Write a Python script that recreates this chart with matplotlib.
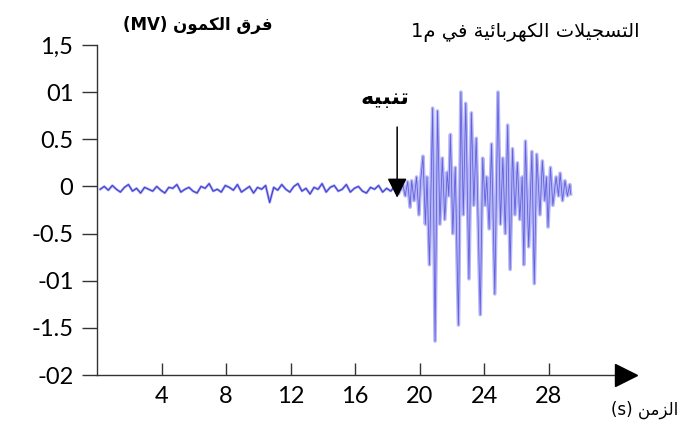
import re
import matplotlib
matplotlib.use("Agg")
import matplotlib.pyplot as plt

# ---------------- data ----------------
x_ticks = [4, 8, 12, 16, 20, 24, 28]
x_tick_labels = ["4", "8", "12", "16", "20", "24", "28"]
y_ticks = [1.5, 1.0, 0.5, 0.0, -0.5, -1.0, -1.5, -2.0]
y_tick_labels = ["1,5", "01", "0.5", "0", "-0.5", "-01", "-1.5", "-02"]

# resting trace before the stimulus (time in s, potential in mV)
rest_t = [0.2, 0.45, 0.7, 0.95, 1.2, 1.45, 1.7, 1.95, 2.2, 2.45,
          2.7, 2.95, 3.2, 3.45, 3.7, 3.95, 4.2, 4.45, 4.7, 4.95,
          5.2, 5.45, 5.7, 5.95, 6.2, 6.45, 6.7, 6.95, 7.2, 7.45,
          7.7, 7.95, 8.2, 8.45, 8.7, 8.95, 9.2, 9.45, 9.7, 9.95,
          10.2, 10.45, 10.7, 10.95, 11.2, 11.45, 11.7, 11.95, 12.2, 12.45,
          12.7, 12.95, 13.2, 13.45, 13.7, 13.95, 14.2, 14.45, 14.7, 14.95,
          15.2, 15.45, 15.7, 15.95, 16.2, 16.45, 16.7, 16.95, 17.2, 17.45,
          17.7, 17.95, 18.2, 18.45, 18.7]
rest_v = [-0.03, 0.00, -0.04, 0.01, -0.03, -0.06, -0.01, 0.02, -0.05, -0.02,
          -0.07, -0.01, -0.03, -0.05, 0.00, -0.04, -0.07, -0.01, -0.02, 0.02,
          -0.06, -0.03, -0.01, -0.05, -0.07, 0.00, -0.02, 0.03, -0.05, -0.03,
          -0.06, 0.01, -0.01, -0.04, 0.02, -0.06, -0.03, 0.00, -0.07, -0.01,
          -0.03, 0.01, -0.17, -0.01, -0.04, 0.02, -0.03, -0.06, 0.00, 0.03,
          -0.05, -0.02, -0.08, -0.01, -0.03, 0.03, -0.06, -0.01, 0.01, -0.05,
          -0.03, 0.02, -0.06, -0.02, 0.00, -0.05, -0.07, -0.01, -0.03, 0.01,
          -0.06, -0.02, -0.05, 0.00, -0.07]

# response after the stimulus
resp_t = [18.95, 19.1, 19.25, 19.4, 19.5, 19.65, 19.8, 19.95, 20.05, 20.2,
          20.35, 20.45, 20.6, 20.8, 20.95, 21.1, 21.25, 21.4, 21.55, 21.7,
          21.8, 21.9, 22.05, 22.2, 22.4, 22.55, 22.7, 22.85, 23.05, 23.2,
          23.35, 23.5, 23.75, 23.9, 24.05, 24.15, 24.3, 24.45, 24.65, 24.85,
          25.0, 25.15, 25.3, 25.45, 25.6, 25.75, 25.9, 26.05, 26.2, 26.35,
          26.45, 26.55, 26.75, 26.95, 27.1, 27.25, 27.45, 27.6, 27.75, 27.85,
          27.95, 28.1, 28.25, 28.45, 28.6, 28.7, 28.85, 29.0, 29.15, 29.3,
          29.35]
resp_v = [0.02, -0.10, 0.05, -0.22, 0.06, -0.15, 0.10, -0.30, 0.05, 0.32,
          -0.40, 0.10, -0.83, 0.83, -1.64, 0.80, -0.40, 0.30, -0.35, 0.15,
          -0.10, 0.55, -0.50, 0.20, -1.47, 1.00, -0.30, 0.88, -0.98, 0.78,
          -0.20, 0.51, -1.36, 0.30, -0.20, 0.10, -0.45, 0.45, -1.14, 1.00,
          -0.40, 0.30, -0.50, 0.65, -0.88, 0.40, -0.30, 0.25, -0.35, 0.10,
          -0.83, 0.48, -0.64, 0.37, -1.03, 0.34, -0.30, 0.27, -0.15, 0.10,
          -0.43, 0.20, -0.20, 0.10, -0.10, 0.14, -0.15, 0.06, -0.10, 0.02,
          -0.08]

stim_t = 18.6

title_txt = "التسجيلات الكهربائية في م1"
ylabel_txt = "فرق الكمون (MV)"
xlabel_txt = "الزمن (s)"
stim_txt = "تنبيه"

# ---------------- simple Arabic shaping ----------------
FORMS = {
    '\u0627': ('\uFE8D', '\uFE8E', None, None),
    '\u0628': ('\uFE8F', '\uFE90', '\uFE91', '\uFE92'),
    '\u0629': ('\uFE93', '\uFE94', None, None),
    '\u062A': ('\uFE95', '\uFE96', '\uFE97', '\uFE98'),
    '\u062C': ('\uFE9D', '\uFE9E', '\uFE9F', '\uFEA0'),
    '\u0631': ('\uFEAD', '\uFEAE', None, None),
    '\u0632': ('\uFEAF', '\uFEB0', None, None),
    '\u0633': ('\uFEB1', '\uFEB2', '\uFEB3', '\uFEB4'),
    '\u0641': ('\uFED1', '\uFED2', '\uFED3', '\uFED4'),
    '\u0642': ('\uFED5', '\uFED6', '\uFED7', '\uFED8'),
    '\u0643': ('\uFED9', '\uFEDA', '\uFEDB', '\uFEDC'),
    '\u0644': ('\uFEDD', '\uFEDE', '\uFEDF', '\uFEE0'),
    '\u0645': ('\uFEE1', '\uFEE2', '\uFEE3', '\uFEE4'),
    '\u0646': ('\uFEE5', '\uFEE6', '\uFEE7', '\uFEE8'),
    '\u0647': ('\uFEE9', '\uFEEA', '\uFEEB', '\uFEEC'),
    '\u0648': ('\uFEED', '\uFEEE', None, None),
    '\u064A': ('\uFEF1', '\uFEF2', '\uFEF3', '\uFEF4'),
    '\u0626': ('\uFE89', '\uFE8A', '\uFE8B', '\uFE8C'),
}


def joins_next(c):
    return c in FORMS and FORMS[c][2] is not None


def shape(s):
    out = []
    i, n = 0, len(s)
    while i < n:
        c = s[i]
        if c not in FORMS:
            out.append(c)
            i += 1
            continue
        prev_j = i > 0 and joins_next(s[i - 1])
        if c == '\u0644' and i + 1 < n and s[i + 1] == '\u0627':
            out.append('\uFEFC' if prev_j else '\uFEFB')
            i += 2
            continue
        next_j = joins_next(c) and i + 1 < n and s[i + 1] in FORMS
        iso, fin, ini, med = FORMS[c]
        if prev_j and next_j:
            f = med
        elif prev_j:
            f = fin
        elif next_j:
            f = ini
        else:
            f = iso
        out.append(f)
        i += 1
    return ''.join(out)


def rtl(s):
    rev = shape(s)[::-1]
    return re.sub(r'[A-Za-z0-9()]+', lambda m: m.group(0)[::-1], rev)


# ---------------- figure ----------------
W, H = 683, 424
fig = plt.figure(figsize=(W / 100, H / 100), dpi=100)
ax = fig.add_axes([97 / W, 1 - 375 / H, 518 / W, 330 / H])
ax.set_xlim(0, 32.1)
ax.set_ylim(-2, 1.5)

ax.plot(rest_t, rest_v, color='#9d9df2', lw=1.8, zorder=2)
ax.plot(rest_t, rest_v, color='#3b3bcc', lw=0.7, zorder=3)
resp_t_full = [rest_t[-1]] + resp_t
resp_v_full = [rest_v[-1]] + resp_v
ax.plot(resp_t_full, resp_v_full, color='#b6b6f6', lw=2.6, zorder=2)
ax.plot(resp_t_full, resp_v_full, color='#6060de', lw=0.6, zorder=3)

for s in ['top', 'right']:
    ax.spines[s].set_visible(False)
for s in ['left', 'bottom']:
    ax.spines[s].set_color('#333333')
    ax.spines[s].set_linewidth(1.0)

num_font = 'Lato'
ax.set_xticks(x_ticks)
ax.set_xticklabels(x_tick_labels, fontfamily=num_font, fontsize=17)
ax.set_yticks(y_ticks)
ax.set_yticklabels(y_tick_labels, fontfamily=num_font, fontsize=17)
ax.tick_params(axis='x', direction='in', length=8.5, width=1, pad=8, color='#333333')
ax.tick_params(axis='y', direction='out', length=11, width=1, pad=6, color='#333333')

# x-axis arrow head
ax.plot([32.78], [-2], marker='>', ms=16, color='black', clip_on=False, zorder=5)

# stimulus arrow
ax.annotate('', xy=(stim_t, -0.12), xytext=(stim_t, 0.63),
            arrowprops=dict(arrowstyle='-|>,head_length=0.6,head_width=0.3',
                            color='black', lw=1.1, mutation_scale=20,
                            shrinkA=0, shrinkB=0), zorder=6)

ar_font = ['DejaVu Sans']
fig.text(198 / W, 1 - 25 / H, rtl(ylabel_txt), family=ar_font, fontsize=12,
         fontweight='bold', ha='center', va='center')
fig.text(525 / W, 1 - 32 / H, rtl(title_txt), family=ar_font, fontsize=14,
         ha='center', va='center')
fig.text(385 / W, 1 - 98 / H, rtl(stim_txt), family=ar_font, fontsize=16,
         fontweight='bold', ha='center', va='center')
fig.text(645 / W, 1 - 410 / H, rtl(xlabel_txt), family=ar_font, fontsize=12,
         ha='center', va='center')

fig.savefig('out.png', dpi=100)
